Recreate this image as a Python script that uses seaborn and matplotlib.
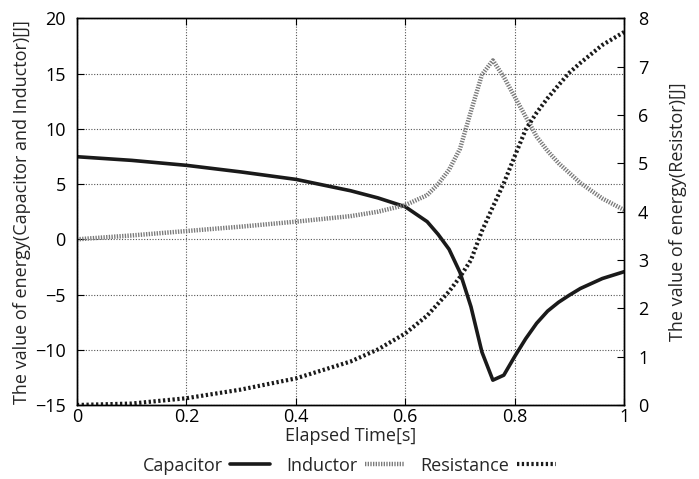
import matplotlib
matplotlib.use("Agg")
import matplotlib.pyplot as plt
import seaborn as sns
import pandas as pd

# ---- data ----
time_s = [0, 0.1, 0.2, 0.3, 0.4, 0.5, 0.55, 0.6, 0.64, 0.66, 0.68, 0.70, 0.72, 0.74,
          0.76, 0.78, 0.80, 0.82, 0.84, 0.86, 0.88, 0.90, 0.92, 0.96, 1.0]
capacitor = [7.48, 7.15, 6.7, 6.1, 5.43, 4.4, 3.75, 2.95, 1.6, 0.45, -0.9, -3.0, -6.1, -10.2,
             -12.75, -12.3, -10.6, -9.0, -7.6, -6.5, -5.7, -5.05, -4.45, -3.55, -2.93]
inductor = [0.0, 0.35, 0.75, 1.15, 1.6, 2.1, 2.5, 3.1, 4.0, 5.0, 6.3, 8.2, 11.6, 14.9,
            16.2, 14.7, 12.9, 11.1, 9.3, 8.0, 6.9, 6.0, 5.1, 3.7, 2.65]
resistance = [0.0, 0.03, 0.14, 0.32, 0.55, 0.9, 1.15, 1.48, 1.85, 2.1, 2.35, 2.65, 3.0, 3.6,
              4.1, 4.59, 5.15, 5.7, 6.05, 6.35, 6.62, 6.88, 7.08, 7.45, 7.72]

left_ticks = [-15, -10, -5, 0, 5, 10, 15, 20]
right_ticks = [0, 1, 2, 3, 4, 5, 6, 7, 8]
x_ticks = [0, 0.2, 0.4, 0.6, 0.8, 1]

df = pd.DataFrame({"t": time_s, "Capacitor": capacitor,
                   "Inductor": inductor, "Resistance": resistance})

sns.set_style("ticks")
plt.rcParams["font.family"] = ["Open Sans", "DejaVu Sans"]
plt.rcParams["font.size"] = 13

fig = plt.figure(figsize=(6.99, 4.79), dpi=100)
ax = fig.add_axes([0.110, 0.1545, 0.783, 0.807])
ax2 = ax.twinx()

sns.lineplot(data=df, x="t", y="Capacitor", ax=ax, color="#1a1a1a", lw=2.6,
             label="Capacitor", legend=False)
sns.lineplot(data=df, x="t", y="Inductor", ax=ax, color="#7a7a7a", lw=3.2,
             linestyle=(0, (0.3, 0.3)), label="Inductor", legend=False)
sns.lineplot(data=df, x="t", y="Resistance", ax=ax2, color="#1a1a1a", lw=3.0,
             linestyle=(0, (0.55, 0.6)), label="Resistance", legend=False)

ax.set_xlim(0, 1)
ax.set_ylim(-15, 20)
ax2.set_ylim(0, 8)
ax.set_xticks(x_ticks)
ax.set_xticklabels(["0", "0.2", "0.4", "0.6", "0.8", "1"])
ax.set_yticks(left_ticks)
ax2.set_yticks(right_ticks)

ax.grid(True, linestyle=(0, (1, 1.5)), color="#555555", lw=0.8)
ax.set_axisbelow(True)

for a in (ax, ax2):
    a.tick_params(direction="in", length=5, width=0.8, colors="black", labelsize=13)
    for s in a.spines.values():
        s.set_visible(True)
        s.set_color("black")
        s.set_linewidth(1.0)
ax.tick_params(top=True, pad=2)
ax.tick_params(axis="y", pad=8)
ax2.tick_params(pad=10)

ax.set_xlabel("Elapsed Time[s]", fontsize=13, labelpad=1)
ax.set_ylabel("The value of energy(Capacitor and Inductor)[J]", fontsize=13, labelpad=3)
ax2.set_ylabel("The value of energy(Resistor)[J]", fontsize=13, labelpad=15)

h1, l1 = ax.get_legend_handles_labels()
h2, l2 = ax2.get_legend_handles_labels()
fig.legend(h1 + h2, l1 + l2, loc="lower center", bbox_to_anchor=(0.5, -0.025),
           ncol=3, frameon=False, markerfirst=False, handlelength=2.2,
           columnspacing=0.9, handletextpad=0.4, fontsize=13)

fig.savefig("out.png", dpi=100)
